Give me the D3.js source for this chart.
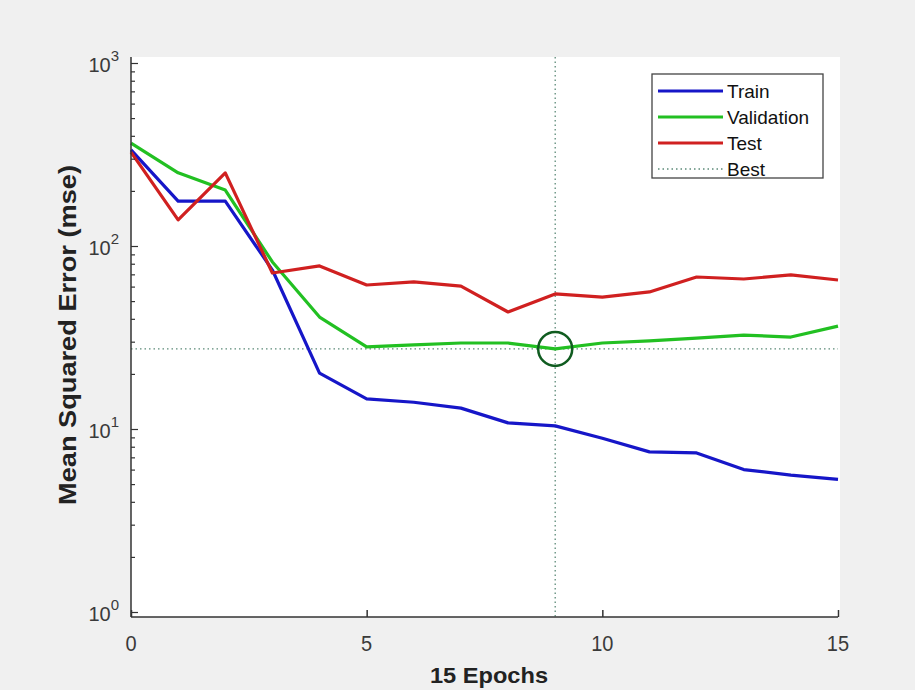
<!DOCTYPE html>
<html>
<head>
<meta charset="utf-8">
<script src="https://cdn.jsdelivr.net/npm/d3@7"></script>
<style>
  html, body { margin: 0; padding: 0; background: #f0f0f0; }
  svg { display: block; }
  text { font-family: "Liberation Sans", Arial, sans-serif; }
</style>
</head>
<body>
<svg id="chart" width="915" height="690"></svg>
<script>
// Training performance per epoch (mean squared error)
const epochs = [0, 1, 2, 3, 4, 5, 6, 7, 8, 9, 10, 11, 12, 13, 14, 15];
const trainMse = [335, 176, 176, 73.9, 20.2, 14.6, 14.0, 13.0, 10.8, 10.4, 8.9, 7.5, 7.4, 6.0, 5.6, 5.3];
const validationMse = [365, 251, 202, 81.8, 40.9, 28.1, 28.8, 29.5, 29.5, 27.4, 29.5, 30.3, 31.4, 32.6, 31.8, 36.5];
const testMse = [326, 139, 251, 71.2, 77.8, 61.2, 63.6, 60.4, 43.6, 54.7, 52.6, 56.1, 67.7, 66.0, 69.5, 65.2];
const bestEpoch = 9;
const xTicks = [0, 5, 10, 15];
const yDecades = [0, 1, 2, 3];
const seriesNames = ["Train", "Validation", "Test", "Best"];

const svg = d3.select("#chart");
const plotLeft = 131, plotRight = 838, plotTop = 63, plotBottom = 612;

const x = d3.scaleLinear().domain([0, 15]).range([plotLeft, plotRight]);
const y = d3.scaleLog().domain([1, 1000]).range([plotBottom, plotTop]);

// white axes area
svg.append("rect")
  .attr("x", plotLeft).attr("y", plotTop - 6)
  .attr("width", plotRight - plotLeft + 2).attr("height", plotBottom - plotTop + 11)
  .attr("fill", "#ffffff");

// best-epoch guide lines
const bestVal = validationMse[bestEpoch];
const guideColor = "#5c8a78";
svg.append("line")
  .attr("x1", x(bestEpoch)).attr("x2", x(bestEpoch))
  .attr("y1", plotTop - 6).attr("y2", plotBottom + 5)
  .attr("stroke", guideColor).attr("stroke-width", 1.3)
  .attr("stroke-dasharray", "1.5,3");
svg.append("line")
  .attr("x1", plotLeft).attr("x2", plotRight)
  .attr("y1", y(bestVal)).attr("y2", y(bestVal))
  .attr("stroke", guideColor).attr("stroke-width", 1.3)
  .attr("stroke-dasharray", "1.5,3");

// series lines
const line = d3.line().x((d, i) => x(epochs[i])).y(d => y(d));
const series = [
  { name: "Train", values: trainMse, color: "#1616c8" },
  { name: "Validation", values: validationMse, color: "#22c022" },
  { name: "Test", values: testMse, color: "#d02020" }
];
series.forEach(s => {
  svg.append("path")
    .datum(s.values)
    .attr("d", line)
    .attr("fill", "none")
    .attr("stroke", s.color)
    .attr("stroke-width", 3.2)
    .attr("stroke-linejoin", "round");
});

// best validation marker
svg.append("circle")
  .attr("cx", x(bestEpoch)).attr("cy", y(bestVal))
  .attr("r", 17)
  .attr("fill", "none")
  .attr("stroke", "#105c20")
  .attr("stroke-width", 2.5);

// axes
const axisColor = "#333333";
const minorValues = d3.range(0, 3)
  .flatMap(k => d3.range(1, 10).map(m => m * Math.pow(10, k)))
  .concat([1000]);
const yAxis = d3.axisLeft(y).tickValues(minorValues).tickFormat("").tickSizeInner(-4).tickSizeOuter(0);
const gy = svg.append("g").attr("transform", `translate(${plotLeft},0)`).call(yAxis);
gy.select(".domain").attr("stroke", axisColor).attr("stroke-width", 1.5)
  .attr("d", `M0,${plotTop - 6}V${plotBottom + 5}`);
gy.selectAll(".tick line").attr("stroke", axisColor).attr("stroke-width", 1.2)
  .attr("x2", d => (Math.abs(Math.log10(d) - Math.round(Math.log10(d))) < 1e-9 ? 7 : 4));

const xAxis = d3.axisBottom(x).tickValues(xTicks).tickFormat("").tickSizeInner(-7).tickSizeOuter(0);
const gx = svg.append("g").attr("transform", `translate(0,${plotBottom + 5})`).call(xAxis);
gx.select(".domain").attr("stroke", axisColor).attr("stroke-width", 1.5)
  .attr("d", `M${plotLeft},0H${plotRight}`);
gx.selectAll(".tick line").attr("stroke", axisColor).attr("stroke-width", 1.5);

// tick labels
svg.selectAll(".xlabel").data(xTicks).enter().append("text")
  .attr("x", d => x(d)).attr("y", 651)
  .attr("text-anchor", "middle")
  .attr("font-size", 20).attr("fill", "#3a3a3a")
  .attr("transform", d => `translate(${x(d)},651) scale(1,1.1) translate(${-x(d)},-651)`)
  .text(d => d);

const yl = svg.selectAll(".ylabel").data(yDecades).enter().append("text")
  .attr("x", 119).attr("y", d => y(Math.pow(10, d)) + 9)
  .attr("text-anchor", "end")
  .attr("font-size", 20).attr("fill", "#3a3a3a");
yl.append("tspan").text("10");
yl.append("tspan").attr("dy", -11).attr("font-size", 15).text(d => d);

// axis titles
svg.append("text")
  .attr("x", 489).attr("y", 683)
  .attr("text-anchor", "middle")
  .attr("font-size", 22).attr("font-weight", "bold").attr("fill", "#222")
  .attr("textLength", 118).attr("lengthAdjust", "spacingAndGlyphs")
  .text("15 Epochs");
svg.append("text")
  .attr("transform", "translate(76,335) rotate(-90)")
  .attr("text-anchor", "middle")
  .attr("font-size", 23).attr("font-weight", "bold").attr("fill", "#222")
  .attr("textLength", 340).attr("lengthAdjust", "spacingAndGlyphs")
  .text("Mean Squared Error  (mse)");

// legend
const lg = svg.append("g");
lg.append("rect")
  .attr("x", 652).attr("y", 74).attr("width", 171).attr("height", 104)
  .attr("fill", "#ffffff").attr("stroke", "#444").attr("stroke-width", 1.3);
const legendItems = [
  { name: seriesNames[0], color: "#1616c8", dash: null, width: 3.2 },
  { name: seriesNames[1], color: "#22c022", dash: null, width: 3.2 },
  { name: seriesNames[2], color: "#d02020", dash: null, width: 3.2 },
  { name: seriesNames[3], color: guideColor, dash: "1.5,3", width: 1.3 }
];
legendItems.forEach((it, i) => {
  const yy = 91 + i * 26;
  lg.append("line")
    .attr("x1", 658).attr("x2", 723).attr("y1", yy).attr("y2", yy)
    .attr("stroke", it.color).attr("stroke-width", it.width)
    .attr("stroke-dasharray", it.dash);
  lg.append("text")
    .attr("x", 727).attr("y", yy + 7)
    .attr("font-size", 19).attr("fill", "#111")
    .text(it.name);
});
</script>
</body>
</html>
